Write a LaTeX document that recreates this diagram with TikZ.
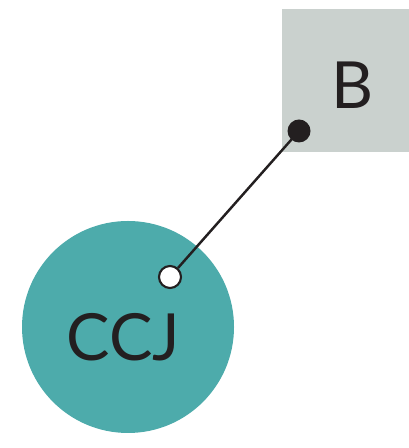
\documentclass[tikz,border=0pt]{standalone}
\usepackage{fontspec}
\setmainfont{Lato}
\usepackage{tikz}
\usetikzlibrary{calc, positioning}
\definecolor{tealfill}{HTML}{4DABAB}
\definecolor{boxgray}{HTML}{CAD1CE}
\definecolor{inkdark}{HTML}{231F20}

\begin{document}
\begin{tikzpicture}[
    blob/.style={circle, fill=tealfill, minimum size=4.24cm, inner sep=0pt},
    box/.style={rectangle, fill=boxgray, minimum width=2.54cm,
                minimum height=2.86cm, inner sep=0pt},
    lbl/.style={text=inkdark, font=\fontsize{37}{40}\selectfont},
    endfull/.style={circle, fill=inkdark, minimum size=0.46cm, inner sep=0pt},
    endopen/.style={circle, draw=inkdark, fill=white, line width=1.2pt,
                    minimum size=0.44cm, inner sep=0pt}
]
    \useasboundingbox (0,0) rectangle (8.18,8.96);
    \node[box] (b) at (6.91,7.35) {};
    \node[lbl] (blbl) at (7.06,7.26) {B};
    \node[blob] (ccj) at (2.56,2.42) {};
    \node[lbl] (ccjlbl) at (2.47,2.22) {CCJ};
    \node[endfull] (bend) at (5.98,6.34) {};
    \node[endopen] (cend) at (3.40,3.42) {};
    \draw[inkdark, line width=1.4pt] (bend.center) -- (cend);
\end{tikzpicture}
\end{document}
